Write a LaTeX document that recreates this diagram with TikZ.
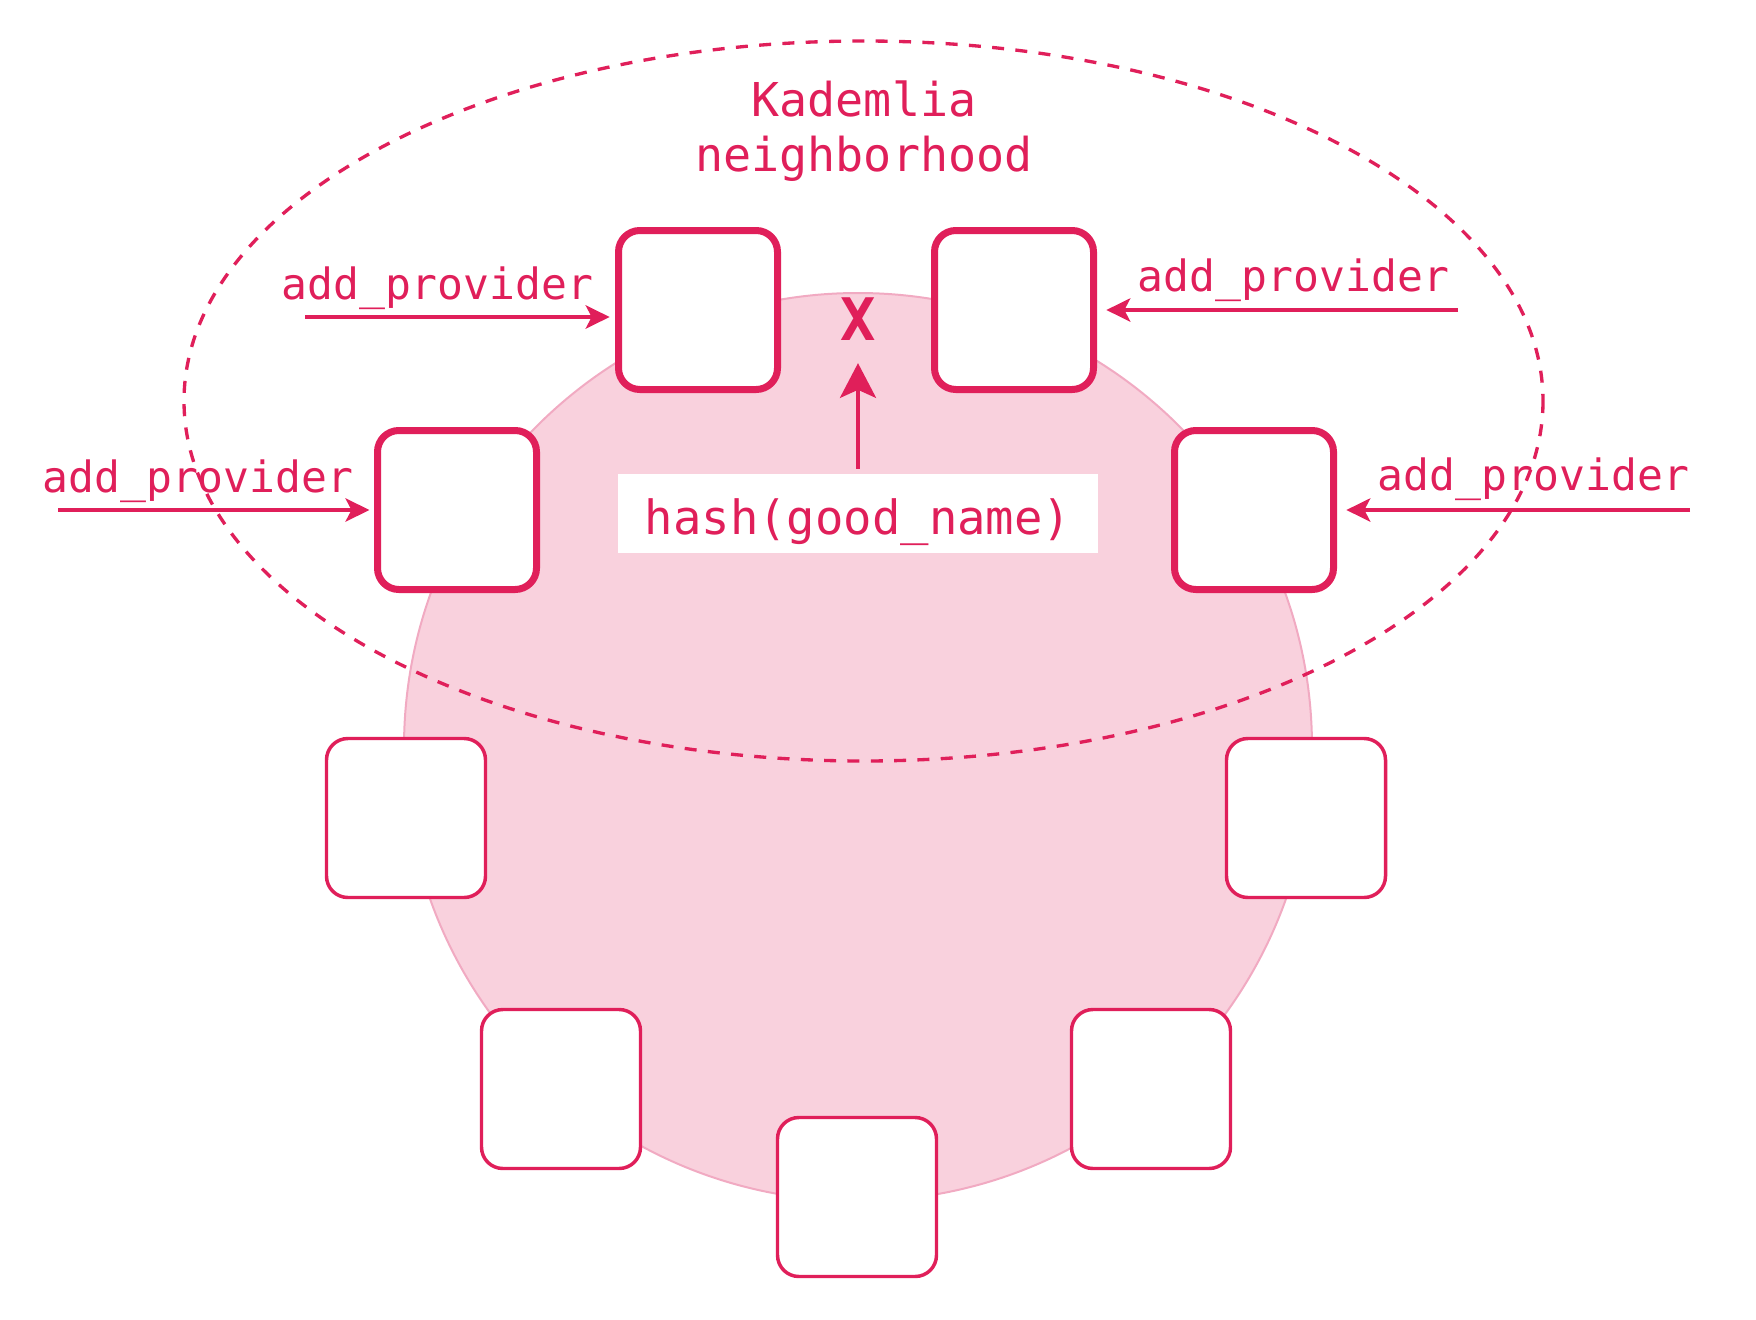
\documentclass[tikz,border=0pt]{standalone}
\usepackage{fontspec}
\setmonofont{DejaVu Sans Mono}
\usetikzlibrary{arrows.meta}
\definecolor{kadred}{RGB}{224,31,90}
\definecolor{kadpink}{RGB}{249,209,221}
\definecolor{kadrim}{RGB}{241,170,194}
\tikzset{every picture/.style={line width=0.75pt},
  peer/.style={draw=kadred, fill=white, line width=2.6pt, rounded corners=16pt, minimum size=119.25pt, inner sep=0pt},
  closepeer/.style={peer, line width=5.25pt},
  call/.style={draw=kadred, line width=2.6pt, -{Stealth[length=18pt,width=17.5pt,inset=4.5pt]}},
  calltext/.style={text=kadred, font=\ttfamily\fontsize{32.3}{40}\selectfont, inner sep=0pt, anchor=base}
}

\begin{document}
\begin{tikzpicture}[x=0.75pt,y=0.75pt,yscale=-1,xscale=1]
\useasboundingbox (0,0) rectangle (1756,1320);

%Shape: Circle [the ring]
\draw [draw=kadrim, fill=kadpink, line width=1.5pt] (858,747) circle [radius=454];
%Shape: Ellipse [neighborhood]
\draw [draw=kadred, line width=2.5pt, dash pattern=on 9pt off 8.5pt] (863.5,401) ellipse [x radius=679.5, y radius=360];

%Shape: Rectangle [close peers]
\node [closepeer] (pA) at (698,310) {};
\node [closepeer] (pB) at (1014,310) {};
\node [closepeer] (pC) at (457,510) {};
\node [closepeer] (pD) at (1254,510) {};
%Shape: Rectangle [other peers]
\node [peer] (pE) at (406,818) {};
\node [peer] (pF) at (1306,818) {};
\node [peer] (pG) at (561,1089) {};
\node [peer] (pH) at (1151,1089) {};
\node [peer] (pI) at (857,1197) {};

% Text Node
\node [text=kadred, font=\ttfamily\fontsize{35}{41.25}\selectfont, align=center, inner sep=0pt] (hood) at (864,131) {Kademlia\\neighborhood};
% Text Node
\node [fill=white, text=kadred, font=\ttfamily\fontsize{35.4}{42}\selectfont, minimum width=360pt, minimum height=59.25pt, text height=38pt, text depth=5.8pt, inner sep=0pt] (hash) at (858,513.5) {hash(good\_name)};
% Text Node
\node [text=kadred, font=\ttfamily\bfseries\fontsize{44}{50}\selectfont, inner sep=0pt, anchor=base] (target) at (858,340) {X};

%Straight Lines [hash to key]
\draw [call, line width=3pt, -{Stealth[length=26pt,width=27pt,inset=6pt]}, shorten <=3.75pt, shorten >=17pt] (hash.north) -- (target.south);

% Text Node
\node [calltext] (lA) at (437.5,299) {add\_provider};
\node [calltext] (lB) at (1293.5,291) {add\_provider};
\node [calltext] (lC) at (198,492) {add\_provider};
\node [calltext] (lD) at (1533.5,490) {add\_provider};

%Straight Lines [add_provider calls]
\coordinate (sA) at (305,317);
\coordinate (sB) at (1458,310);
\coordinate (sC) at (58,510);
\coordinate (sD) at (1690,510);
\draw [call, shorten >=4pt] (sA) -- (sA -| pA.west);
\draw [call, shorten >=7pt] (sB) -- (sB -| pB.east);
\draw [call, shorten >=3.4pt] (sC) -- (sC -| pC.west);
\draw [call, shorten >=7pt] (sD) -- (sD -| pD.east);

\end{tikzpicture}
\end{document}
